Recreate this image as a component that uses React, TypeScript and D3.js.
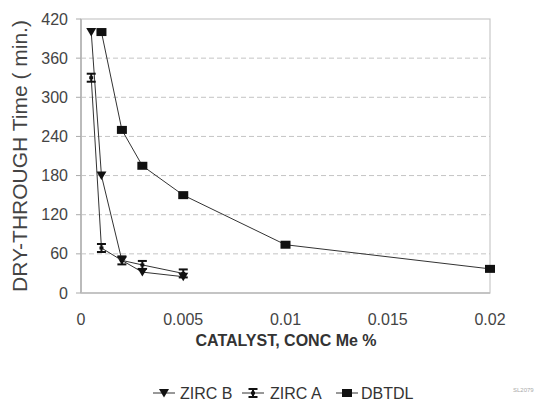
import React from "react";
import * as d3 from "d3";

const xTicks = [0, 0.005, 0.01, 0.015, 0.02];
const xTickLabels = ["0", "0.005", "0.01", "0.015", "0.02"];
const yTicks = [0, 60, 120, 180, 240, 300, 360, 420];

const zircBX = [0.0005, 0.001, 0.002, 0.003, 0.005];
const zircBY = [400, 180, 50, 32, 25];
const zircAX = [0.0005, 0.001, 0.002, 0.003, 0.005];
const zircAY = [330, 69, 50, 43, 30];
const dbtdlX = [0.001, 0.002, 0.003, 0.005, 0.01, 0.02];
const dbtdlY = [400, 250, 195, 150, 74, 37];

const seriesNames = ["ZIRC B", "ZIRC A", "DBTDL"];

const W = 551;
const H = 402;
const left = 81;
const right = 490;
const top = 19;
const bottom = 293;
const FONT = "Arial, 'Liberation Sans', sans-serif";

type Kind = "tri" | "ibeam" | "square";

function Marker({ x, y, kind }: { x: number; y: number; kind: Kind }) {
  if (kind === "tri") {
    return <path d={`M${x - 5},${y - 4}L${x + 5},${y - 4}L${x},${y + 4.5}Z`} fill="#111" />;
  }
  if (kind === "square") {
    return <rect x={x - 5} y={y - 4} width={10} height={8} fill="#111" />;
  }
  return (
    <g stroke="#111" strokeWidth={2} fill="none">
      <line x1={x - 4.5} x2={x + 4.5} y1={y - 4} y2={y - 4} />
      <line x1={x - 4.5} x2={x + 4.5} y1={y + 4} y2={y + 4} />
      <line x1={x} x2={x} y1={y - 4} y2={y + 4} />
      <rect x={x - 2} y={y - 1.5} width={4} height={3} fill="#111" stroke="none" />
    </g>
  );
}

export default function App() {
  const x = d3.scaleLinear().domain([0, 0.02]).range([left, right]);
  const y = d3.scaleLinear().domain([0, 420]).range([bottom, top]);
  const line = d3
    .line<[number, number]>()
    .x((d) => x(d[0]))
    .y((d) => y(d[1]));

  const series: { xs: number[]; ys: number[]; kind: Kind }[] = [
    { xs: zircBX, ys: zircBY, kind: "tri" },
    { xs: zircAX, ys: zircAY, kind: "ibeam" },
    { xs: dbtdlX, ys: dbtdlY, kind: "square" },
  ];

  const legendY = 393;
  const legendItems = [
    { x: 153, kind: "tri" as Kind, tx: 180 },
    { x: 242, kind: "ibeam" as Kind, tx: 270 },
    { x: 336, kind: "square" as Kind, tx: 361 },
  ];

  return (
    <svg
      width={W}
      height={H}
      style={{ position: "absolute", left: 0, top: 0, background: "#fff" }}
      fontFamily={FONT}
    >
      <rect x={0} y={0} width={W} height={H} fill="#fff" />
      {/* gridlines */}
      {yTicks
        .filter((t) => t > 0 && t < 420)
        .map((t) => (
          <line
            key={t}
            x1={left}
            x2={right}
            y1={y(t)}
            y2={y(t)}
            stroke="#c4c4c4"
            strokeWidth={1}
            strokeDasharray="5,3"
          />
        ))}
      {/* plot border */}
      <rect
        x={left}
        y={top}
        width={right - left}
        height={bottom - top}
        fill="none"
        stroke="#c8c8c8"
        strokeWidth={1.2}
      />
      <line x1={left} x2={left} y1={top} y2={bottom} stroke="#bbb" strokeWidth={2} />
      <line x1={left} x2={right} y1={bottom} y2={bottom} stroke="#bbb" strokeWidth={1.5} />
      {/* y ticks */}
      {yTicks.map((t) => (
        <g key={t}>
          <line x1={left - 5} x2={left} y1={y(t)} y2={y(t)} stroke="#aaa" strokeWidth={1} />
          <text
            x={68}
            y={y(t)}
            dy="0.35em"
            textAnchor="end"
            fontSize={16}
            fill="#444"
          >
            {t}
          </text>
        </g>
      ))}
      {/* x ticks */}
      {xTicks.map((t, i) => (
        <text key={t} x={x(t)} y={325} textAnchor="middle" fontSize={16} fill="#444">
          {xTickLabels[i]}
        </text>
      ))}
      {/* titles */}
      <text
        x={286}
        y={346}
        textAnchor="middle"
        fontSize={16}
        fontWeight="bold"
        fill="#333"
      >
        CATALYST, CONC Me %
      </text>
      <text
        transform={`translate(27,156) rotate(-90)`}
        textAnchor="middle"
        fontSize={21}
        fill="#444"
      >
        DRY-THROUGH Time ( min.)
      </text>
      {/* series */}
      {series.map((s, i) => (
        <g key={i}>
          <path
            d={line(s.xs.map((v, j) => [v, s.ys[j]] as [number, number])) || ""}
            fill="none"
            stroke="#333"
            strokeWidth={1}
          />
          {s.xs.map((v, j) => (
            <Marker key={j} x={x(v)} y={y(s.ys[j])} kind={s.kind} />
          ))}
        </g>
      ))}
      {/* legend */}
      {legendItems.map((it, i) => (
        <g key={i}>
          <line x1={it.x} x2={it.x + 22} y1={legendY} y2={legendY} stroke="#333" strokeWidth={1} />
          <Marker x={it.x + 11} y={legendY} kind={it.kind} />
          <text x={it.tx} y={legendY} dy="0.35em" fontSize={16} fill="#333">
            {seriesNames[i]}
          </text>
        </g>
      ))}
      <text x={513} y={392} fontSize={6} fill="#aaa">
        SL2079
      </text>
    </svg>
  );
}
